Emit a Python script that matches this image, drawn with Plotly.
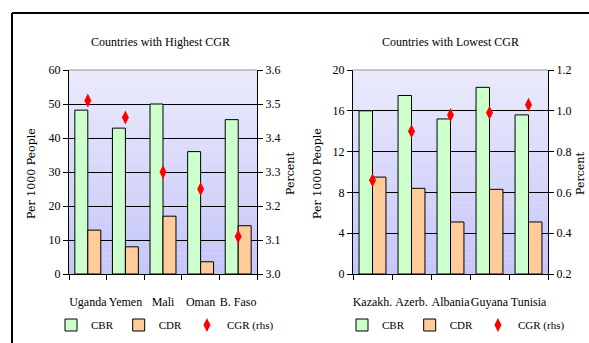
import plotly.graph_objects as go

# left panel: countries with highest CGR
hi_countries = ["Uganda", "Yemen", "Mali", "Oman", "B. Faso"]
hi_cbr = [48.2, 42.9, 50.0, 36.0, 45.4]
hi_cdr = [12.9, 8.0, 17.0, 3.6, 14.2]
hi_cgr = [3.51, 3.46, 3.30, 3.25, 3.11]

# right panel: countries with lowest CGR
lo_countries = ["Kazakh.", "Azerb.", "Albania", "Guyana", "Tunisia"]
lo_cbr = [16.0, 17.5, 15.2, 18.3, 15.6]
lo_cdr = [9.5, 8.4, 5.1, 8.3, 5.1]
lo_cgr = [0.66, 0.90, 0.98, 0.99, 1.03]

FONT = "Liberation Serif"
GREEN = "#CCFFCC"
ORANGE = "#FFCC99"
W, H = 589, 343


def px(p):
    return p / W


def py(p):
    return 1 - p / H


fig = go.Figure()

def add_panel(cats, cbr, cdr, cgr, xa, ya, ya2, leg):
    fig.add_trace(go.Bar(x=cats, y=cbr, name="CBR", marker=dict(color=GREEN, line=dict(color="black", width=1)),
                         xaxis=xa, yaxis=ya, offsetgroup="a", legend=leg))
    fig.add_trace(go.Bar(x=cats, y=cdr, name="CDR", marker=dict(color=ORANGE, line=dict(color="black", width=1)),
                         xaxis=xa, yaxis=ya, offsetgroup="b", legend=leg))
    fig.add_trace(go.Scatter(x=cats, y=cgr, name="CGR (rhs)", mode="markers",
                             marker=dict(symbol="diamond-tall", color="#FF0000", size=10),
                             xaxis=xa, yaxis=ya2, legend=leg))

add_panel(hi_countries, hi_cbr, hi_cdr, hi_cgr, "x", "y", "y2", "legend")
add_panel(lo_countries, lo_cbr, lo_cdr, lo_cgr, "x2", "y3", "y4", "legend2")

ydom = [py(274), py(70)]
xdom1 = [px(69), px(257)]
xdom2 = [px(353), px(548)]

tickfont = dict(family=FONT, size=12, color="black")
xcommon = dict(type="category", showline=True, linecolor="black", linewidth=1, ticks="outside",
               tickson="boundaries", ticklen=5, tickcolor="black", tickfont=tickfont,
               ticklabelstandoff=17, showgrid=False, tickangle=0, automargin=False)
ycommon = dict(showline=True, linecolor="black", linewidth=1, ticks="outside", ticklen=5,
               tickcolor="black", tickfont=tickfont, zeroline=False, automargin=False)

legcommon = dict(orientation="h", yanchor="middle", xanchor="center", y=py(325),
                 font=dict(family=FONT, size=11), itemwidth=30,
                 bgcolor="rgba(0,0,0,0)", tracegroupgap=0)

fig.update_layout(
    width=W, height=H,
    margin=dict(l=0, r=0, t=0, b=0, autoexpand=False),
    paper_bgcolor="white", plot_bgcolor="white",
    barmode="group", bargap=0.31, bargroupgap=0,
    showlegend=True,
    font=dict(family=FONT, color="black"),
    xaxis=dict(domain=xdom1, anchor="y", **xcommon),
    yaxis=dict(domain=ydom, anchor="x", range=[0, 60], dtick=10, showgrid=True,
               gridcolor="black", gridwidth=1, **ycommon),
    yaxis2=dict(overlaying="y", side="right", anchor="x", range=[3.0, 3.6], dtick=0.1,
                tickformat=".1f", showgrid=False, **ycommon),
    xaxis2=dict(domain=xdom2, anchor="y3", **xcommon),
    yaxis3=dict(domain=ydom, anchor="x2", range=[0, 20], dtick=4, showgrid=True,
                gridcolor="black", gridwidth=1, **ycommon),
    yaxis4=dict(overlaying="y3", side="right", anchor="x2", range=[0.2, 1.2], dtick=0.2,
                tickformat=".1f", showgrid=False, **ycommon),
    legend=dict(x=px(165), **legcommon),
    legend2=dict(x=px(456), **legcommon),
)

# gradient background bands in each plot area
nb = 40
top = (234, 234, 251)
bot = (198, 198, 250)
for xr, yr in [("x domain", "y domain"), ("x2 domain", "y3 domain")]:
    for i in range(nb):
        t = i / (nb - 1)
        c = tuple(int(round(bot[k] + (top[k] - bot[k]) * t)) for k in range(3))
        fig.add_shape(type="rect", xref=xr, yref=yr, x0=0, x1=1, y0=i / nb, y1=(i + 1) / nb + 0.002,
                      fillcolor="rgb(%d,%d,%d)" % c, line=dict(width=0), layer="below")
    fig.add_shape(type="line", xref=xr, yref=yr, x0=0, x1=1, y0=1, y1=1,
                  line=dict(color="#999999", width=1), layer="below")

# frame lines
fig.add_shape(type="line", xref="paper", yref="paper", x0=px(12), x1=1.0, y0=py(13), y1=py(13),
              line=dict(color="black", width=2))
fig.add_shape(type="line", xref="paper", yref="paper", x0=px(12), x1=px(12), y0=0.0, y1=py(13),
              line=dict(color="black", width=2))

titles = [("Countries with Highest CGR", 160), ("Countries with Lowest CGR", 450)]
for txt, xx in titles:
    fig.add_annotation(text=txt, x=px(xx), y=py(42), xref="paper", yref="paper",
                       xanchor="center", yanchor="middle",
                       showarrow=False, font=dict(family=FONT, size=12))

ytitles = [("Per 1000 People", 31), ("Percent", 290), ("Per 1000 People", 317), ("Percent", 580)]
for txt, xx in ytitles:
    fig.add_annotation(text=txt, x=px(xx), y=py(174), xref="paper", yref="paper", textangle=-90,
                       xanchor="center", yanchor="middle",
                       showarrow=False, font=dict(family="DejaVu Serif", size=11))

fig.write_html("out.html", config={"displayModeBar": False},
               post_script="document.body.style.margin='0';document.body.style.overflow='hidden';")
